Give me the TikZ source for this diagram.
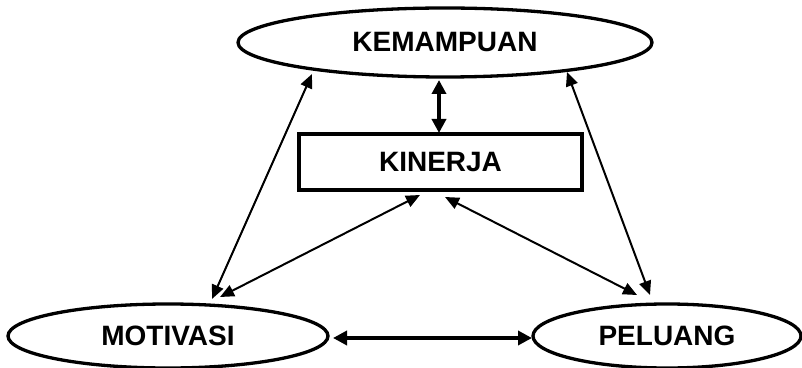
\documentclass[tikz,border=0pt]{standalone}
\usepackage{fontspec}
\setmainfont{Liberation Sans}
\usetikzlibrary{arrows.meta,shapes.geometric}
\begin{document}
\begin{tikzpicture}[x=1pt,y=1pt,
  lbl/.style={font=\fontsize{28}{32}\selectfont\bfseries, inner sep=0pt},
  oval/.style={ellipse, draw, line width=3.3pt, lbl},
  box/.style={rectangle, draw, line width=3.3pt, lbl},
  thinarr/.style={line width=2pt, {Triangle[length=14pt,width=12pt]}-{Triangle[length=14pt,width=12pt]}},
  thickarr/.style={line width=3.5pt, {Triangle[length=14pt,width=14pt]}-{Triangle[length=14pt,width=14pt]}}]
\useasboundingbox (0,0) rectangle (802,367);
\node[oval, minimum width=414pt, minimum height=69pt] (kem) at (445,324.5) {KEMAMPUAN};
\node[box, minimum width=283pt, minimum height=56pt] (kin) at (440.5,205) {KINERJA};
\node[oval, minimum width=320pt, minimum height=64pt] (mot) at (168,31) {MOTIVASI};
\node[oval, minimum width=268pt, minimum height=64pt] (pel) at (667,31) {PELUANG};
\draw[thinarr] ([shift={(-133,-31.5)}]kem.center) -- ([shift={(44,37)}]mot.center);
\draw[thinarr] ([shift={(-20.5,-33)}]kin.center) -- ([shift={(52,39)}]mot.center);
\draw[thinarr] ([shift={(4.5,-35)}]kin.center) -- ([shift={(-30,41)}]pel.center);
\draw[thinarr] ([shift={(122,-29.5)}]kem.center) -- ([shift={(-17,41)}]pel.center);
\draw[thickarr] ([shift={(-6,-37.5)}]kem.center) -- ([shift={(-1.5,29)}]kin.center);
\draw[thickarr] ([shift={(165,-2)}]mot.center) -- ([shift={(-135,-2)}]pel.center);
\end{tikzpicture}
\end{document}
